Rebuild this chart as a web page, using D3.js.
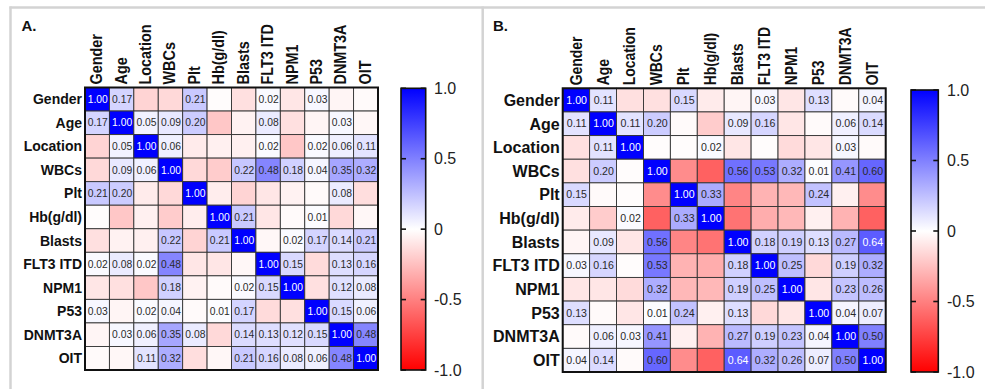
<!DOCTYPE html>
<html>
<head>
<meta charset="utf-8">
<script src="https://cdn.jsdelivr.net/npm/d3@7"></script>
<style>
  html, body { margin: 0; padding: 0; background: #fff; }
  svg { display: block; font-family: "Liberation Sans", Arial, sans-serif; }
</style>
</head>
<body>
<svg id="chart" width="985" height="389"></svg>
<script>
// ---------------- DATA ----------------
const variables = ["Gender","Age","Location","WBCs","Plt","Hb(g/dl)","Blasts","FLT3 ITD","NPM1","P53","DNMT3A","OIT"];

// Panel A correlation matrix (negative values; they carry no label)
const matrixA = [
  [ 1.00, 0.17,-0.17,-0.15, 0.21,-0.01,-0.12, 0.02,-0.10, 0.03,-0.04,-0.02],
  [ 0.17, 1.00, 0.05, 0.09, 0.20,-0.22,-0.05, 0.08,-0.12,-0.04, 0.03,-0.03],
  [-0.17, 0.05, 1.00, 0.06,-0.08,-0.06,-0.06, 0.02,-0.22, 0.02, 0.06, 0.11],
  [-0.15, 0.09, 0.06, 1.00,-0.15,-0.20, 0.22, 0.48, 0.18, 0.04, 0.35, 0.32],
  [ 0.21, 0.20,-0.08,-0.15, 1.00,-0.07,-0.17,-0.10,-0.05,-0.02, 0.08,-0.13],
  [-0.01,-0.22,-0.06,-0.20,-0.07, 1.00, 0.21,-0.10,-0.02, 0.01,-0.15,-0.03],
  [-0.12,-0.05,-0.06, 0.22,-0.17, 0.21, 1.00,-0.03, 0.02, 0.17, 0.14, 0.21],
  [ 0.02, 0.08, 0.02, 0.48,-0.10,-0.10,-0.03, 1.00, 0.15,-0.14, 0.13, 0.16],
  [-0.10,-0.12,-0.22, 0.18,-0.05,-0.02, 0.02, 0.15, 1.00,-0.12, 0.12, 0.08],
  [ 0.03,-0.04, 0.02, 0.04,-0.02, 0.01, 0.17,-0.14,-0.12, 1.00, 0.15, 0.06],
  [-0.04, 0.03, 0.06, 0.35, 0.08,-0.15, 0.14, 0.13, 0.12, 0.15, 1.00, 0.48],
  [-0.02,-0.03, 0.11, 0.32,-0.13,-0.03, 0.21, 0.16, 0.08, 0.06, 0.48, 1.00]
];

// Panel B correlation matrix
const matrixB = [
  [ 1.00, 0.11,-0.12,-0.12, 0.15,-0.08,-0.04, 0.03,-0.10, 0.13,-0.02, 0.04],
  [ 0.11, 1.00, 0.11, 0.20,-0.02,-0.20, 0.09, 0.16,-0.10,-0.02, 0.06, 0.14],
  [-0.12, 0.11, 1.00,-0.01,-0.01, 0.02,-0.10,-0.01,-0.14,-0.10, 0.03,-0.02],
  [-0.12, 0.20,-0.01, 1.00,-0.45,-0.62, 0.56, 0.53, 0.32, 0.01, 0.41, 0.60],
  [ 0.15,-0.02,-0.01,-0.45, 1.00, 0.33,-0.48,-0.30,-0.28, 0.24,-0.06,-0.45],
  [-0.08,-0.20, 0.02,-0.62, 0.33, 1.00,-0.55,-0.32,-0.28,-0.06,-0.30,-0.62],
  [-0.04, 0.09,-0.10, 0.56,-0.48,-0.55, 1.00, 0.18, 0.19, 0.13, 0.27, 0.64],
  [ 0.03, 0.16,-0.01, 0.53,-0.30,-0.32, 0.18, 1.00, 0.25,-0.15, 0.19, 0.32],
  [-0.10,-0.10,-0.14, 0.32,-0.28,-0.28, 0.19, 0.25, 1.00,-0.10, 0.23, 0.26],
  [ 0.13,-0.02,-0.10, 0.01, 0.24,-0.06, 0.13,-0.15,-0.10, 1.00, 0.04, 0.07],
  [-0.02, 0.06, 0.03, 0.41,-0.06,-0.30, 0.27, 0.19, 0.23, 0.04, 1.00, 0.50],
  [ 0.04, 0.14,-0.02, 0.60,-0.45,-0.62, 0.64, 0.32, 0.26, 0.07, 0.50, 1.00]
];

const colorDomain = [-1, 0, 1];
const colorRange = ["#ff0000", "#ffffff", "#0000ff"];
const colorbarTicks = [1.0, 0.5, 0, -0.5, -1.0];
const colorbarTickLabels = ["1.0", "0.5", "0", "-0.5", "-1.0"];
const panelTitles = ["A.", "B."];

// ---------------- DRAW ----------------
const svg = d3.select("#chart");
const color = d3.scaleLinear().domain(colorDomain).range(colorRange).clamp(true);
const fmt = d3.format(".2f");

// panel frames (light grey)
const frame = svg.append("g").attr("stroke", "#d3d3d3").attr("stroke-width", 2.5).attr("fill", "none");
frame.append("line").attr("x1", 9.5).attr("x2", 985).attr("y1", 7.5).attr("y2", 7.5);
frame.append("line").attr("x1", 10.5).attr("x2", 10.5).attr("y1", 6.5).attr("y2", 389);
frame.append("line").attr("x1", 482.7).attr("x2", 482.7).attr("y1", 6.5).attr("y2", 389);

// gradient for colour bars
const defs = svg.append("defs");
const grad = defs.append("linearGradient").attr("id", "cbgrad")
  .attr("x1", 0).attr("x2", 0).attr("y1", 0).attr("y2", 1);
grad.selectAll("stop").data([1, 0.5, 0, -0.5, -1]).join("stop")
  .attr("offset", d => ((1 - d) / 2 * 100) + "%")
  .attr("stop-color", d => color(d));

function drawPanel(cfg) {
  const g = svg.append("g");
  const x = d3.scaleBand().domain(variables).range([cfg.gx0, cfg.gx1]);
  const y = d3.scaleBand().domain(variables).range([cfg.gy0, cfg.gy1]);

  g.append("text").attr("x", cfg.titleX).attr("y", 31)
    .attr("font-size", 15).attr("font-weight", "bold").attr("fill", "#111")
    .text(cfg.title);

  const cells = [];
  cfg.matrix.forEach((row, i) => row.forEach((v, j) => cells.push({ r: variables[i], c: variables[j], v })));

  g.selectAll("rect.cell").data(cells).join("rect").attr("class", "cell")
    .attr("x", d => x(d.c)).attr("y", d => y(d.r))
    .attr("width", x.bandwidth()).attr("height", y.bandwidth())
    .attr("fill", d => color(d.v))
    .attr("stroke", "#333").attr("stroke-width", 0.9);

  g.selectAll("text.val").data(cells.filter(d => d.v > 0)).join("text").attr("class", "val")
    .attr("x", d => x(d.c) + x.bandwidth() / 2 + 0.5)
    .attr("y", d => y(d.r) + y.bandwidth() / 2)
    .attr("dy", "0.35em")
    .attr("text-anchor", "middle")
    .attr("font-size", cfg.valSize)
    .attr("fill", d => d.v >= 0.62 ? "#ffffff" : "#2a2a2a")
    .text(d => fmt(d.v));

  g.append("rect").attr("x", cfg.gx0).attr("y", cfg.gy0)
    .attr("width", cfg.gx1 - cfg.gx0).attr("height", cfg.gy1 - cfg.gy0)
    .attr("fill", "none").attr("stroke", "#111").attr("stroke-width", 2);

  // row labels
  g.selectAll("text.row").data(variables).join("text").attr("class", "row")
    .attr("x", cfg.gx0 - 3).attr("y", d => y(d) + y.bandwidth() / 2)
    .attr("dy", "0.36em").attr("text-anchor", "end")
    .attr("font-size", cfg.rowSize).attr("font-weight", "bold").attr("fill", "#111")
    .text(d => d);

  // column labels
  g.selectAll("text.col").data(variables).join("text").attr("class", "col")
    .attr("transform", d => `translate(${x(d) + x.bandwidth() / 2 + cfg.colShift},${cfg.gy0 - 3}) rotate(-90) scale(${cfg.colSquash},1)`)
    .attr("text-anchor", "start")
    .attr("font-size", cfg.colSize).attr("font-weight", "bold").attr("fill", "#111")
    .text(d => d);

  // colour bar
  const cb = svg.append("g");
  const cy = d3.scaleLinear().domain([-1, 1]).range([cfg.cby1, cfg.cby0]);
  cb.append("rect").attr("x", cfg.cbx0).attr("y", cfg.cby0)
    .attr("width", cfg.cbx1 - cfg.cbx0).attr("height", cfg.cby1 - cfg.cby0)
    .attr("fill", "url(#cbgrad)").attr("stroke", "#111").attr("stroke-width", 1.6);
  cb.selectAll("line.tl").data(colorbarTicks).join("line").attr("class", "tl")
    .attr("x1", cfg.cbx0).attr("x2", cfg.cbx0 + 5)
    .attr("y1", d => cy(d)).attr("y2", d => cy(d))
    .attr("stroke", "#111").attr("stroke-width", 1.6);
  cb.selectAll("line.tr").data(colorbarTicks).join("line").attr("class", "tr")
    .attr("x1", cfg.cbx1 - 5).attr("x2", cfg.cbx1)
    .attr("y1", d => cy(d)).attr("y2", d => cy(d))
    .attr("stroke", "#111").attr("stroke-width", 1.6);
  cb.selectAll("text.cbl").data(colorbarTicks).join("text").attr("class", "cbl")
    .attr("x", cfg.cbLabelX).attr("y", d => cy(d)).attr("dy", "0.35em")
    .attr("font-size", 16).attr("fill", "#222")
    .text((d, i) => colorbarTickLabels[i]);
}

drawPanel({
  title: panelTitles[0], titleX: 21.5, matrix: matrixA,
  gx0: 85, gx1: 378, gy0: 87.5, gy1: 370,
  rowSize: 14, colSize: 16, colSquash: 0.9, colShift: 5, valSize: 10.3,
  cbx0: 401, cbx1: 425.7, cby0: 88.3, cby1: 370, cbLabelX: 434
});
drawPanel({
  title: panelTitles[1], titleX: 493, matrix: matrixB,
  gx0: 562.7, gx1: 885.7, gy0: 88.3, gy1: 372,
  rowSize: 16, colSize: 16, colSquash: 0.87, colShift: 5.5, valSize: 10.6,
  cbx0: 911, cbx1: 938.3, cby0: 90, cby1: 372, cbLabelX: 947
});
</script>
</body>
</html>
